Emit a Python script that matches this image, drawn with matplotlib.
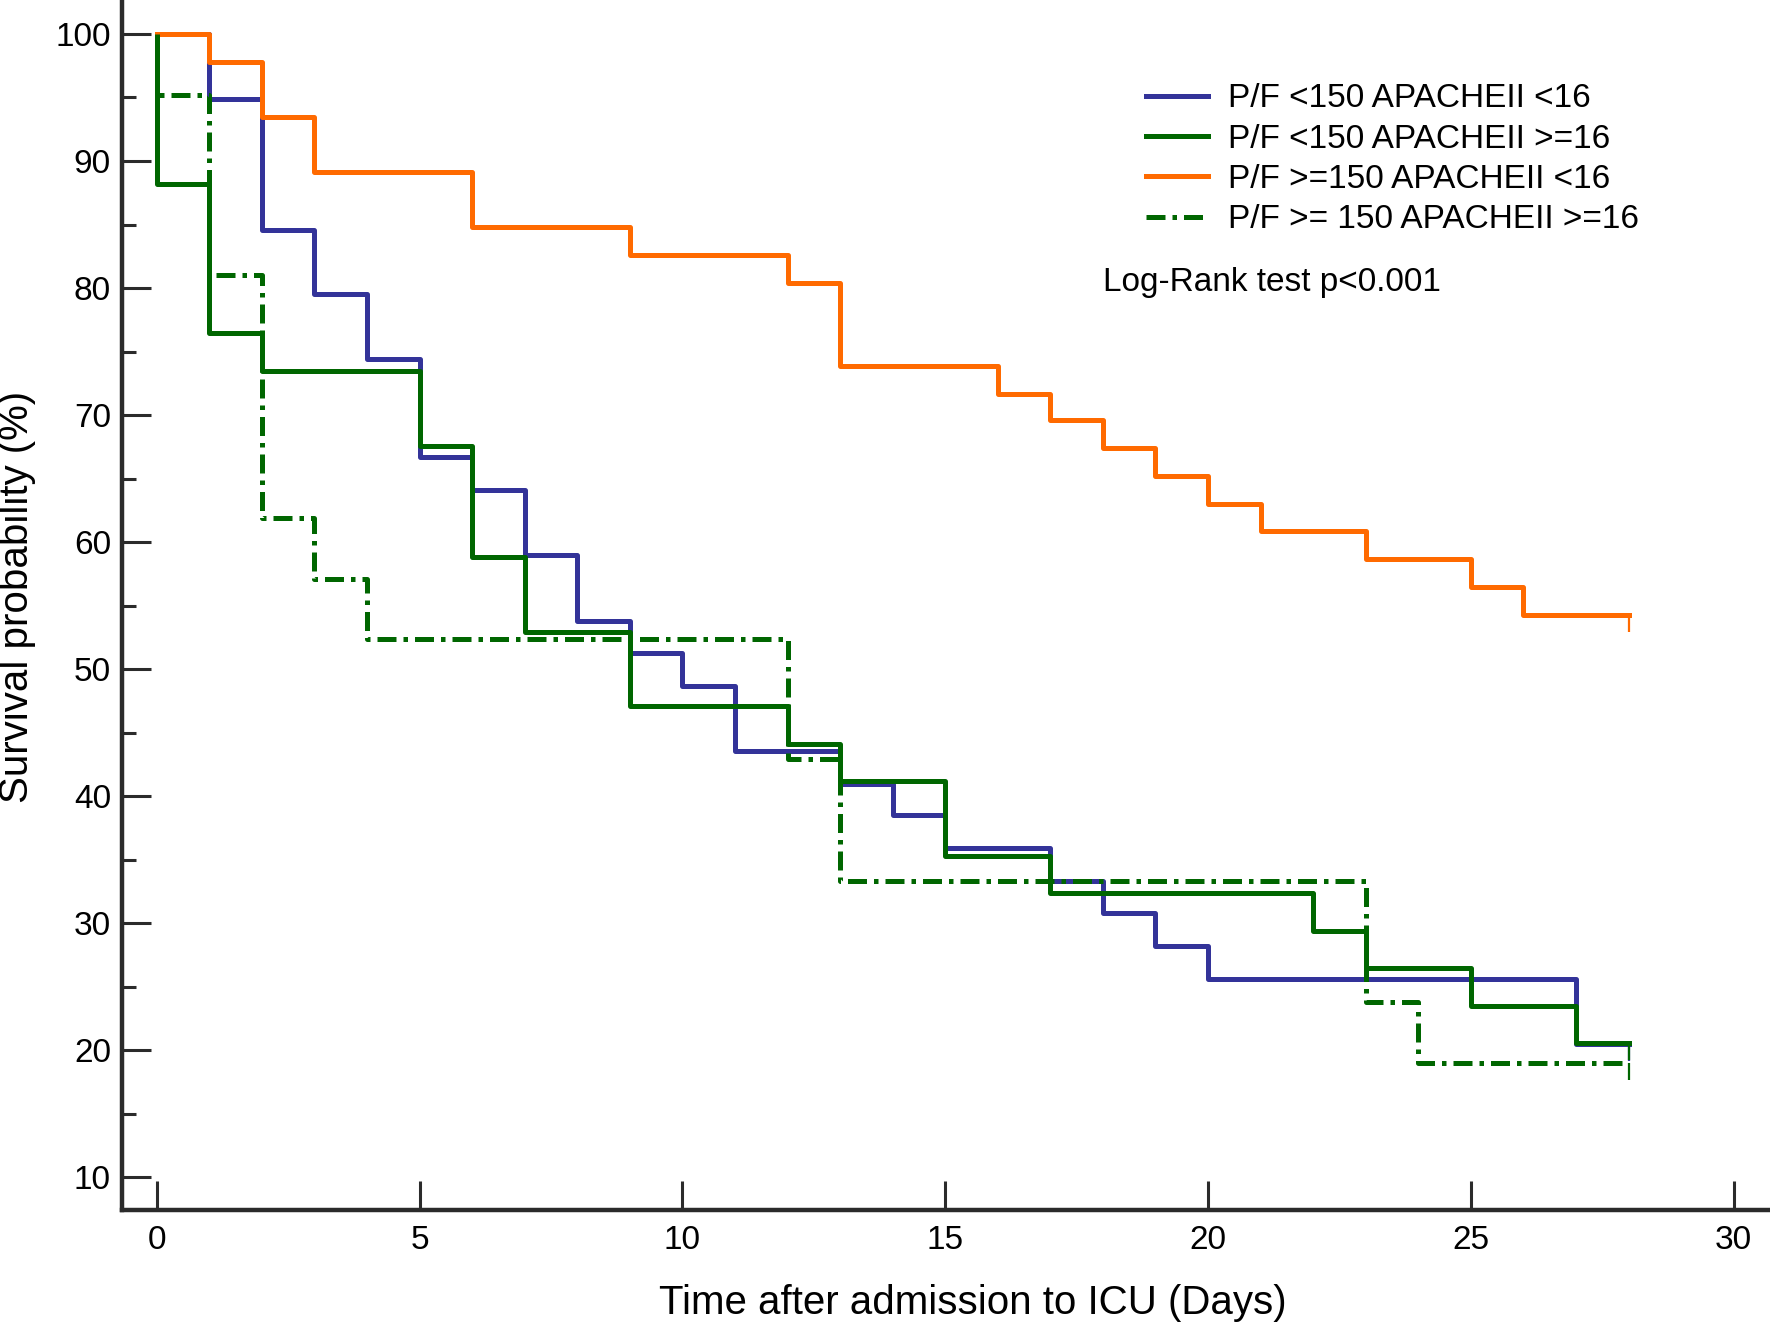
import matplotlib
matplotlib.use('Agg')
import matplotlib.pyplot as plt

plt.rcParams['font.family'] = ['Liberation Sans', 'DejaVu Sans']

#%% Kaplan-Meier curves (days, survival %)
t_low_low = [0, 1, 2, 3, 4, 5, 6, 7, 8, 9, 10, 11, 13, 14, 15, 17, 18, 19, 20, 27, 28]
s_low_low = [100, 94.9, 84.6, 79.5, 74.4, 66.7, 64.1, 59.0, 53.8, 51.3, 48.7, 43.6, 41.0,
             38.5, 35.9, 33.3, 30.8, 28.2, 25.6, 20.5, 20.5]

t_low_high = [0, 0, 1, 2, 5, 6, 7, 9, 12, 13, 15, 17, 22, 23, 25, 27, 28]
s_low_high = [100, 88.2, 76.5, 73.5, 67.6, 58.8, 52.9, 47.1, 44.1, 41.2, 35.3, 32.4,
              29.4, 26.5, 23.5, 20.6, 20.6]

t_high_low = [0, 1, 2, 3, 6, 9, 12, 13, 16, 17, 18, 19, 20, 21, 23, 25, 26, 28]
s_high_low = [100, 97.8, 93.5, 89.1, 84.8, 82.6, 80.4, 73.9, 71.7, 69.6, 67.4, 65.2,
              63.0, 60.9, 58.7, 56.5, 54.3, 54.3]

t_high_high = [0, 0, 1, 2, 3, 4, 12, 13, 23, 24, 28]
s_high_high = [100, 95.2, 81.0, 61.9, 57.1, 52.4, 42.9, 33.3, 23.8, 19.0, 19.0]

labels = ['P/F <150 APACHEII <16', 'P/F <150 APACHEII >=16',
          'P/F >=150 APACHEII <16', 'P/F >= 150 APACHEII >=16']

blue = '#333399'
green = '#006600'
orange = '#ff6a00'
dashdot = (0, (3.8, 1.4, 0.9, 1.4))

#%% Plot
fig = plt.figure(figsize=(17.7, 13.25), dpi=100)
ax = fig.add_axes([122/1770, 1 - 1210/1325, 1 - 122/1770, 1210/1325])

series = [(t_low_low, s_low_low, blue, '-'),
          (t_low_high, s_low_high, green, '-'),
          (t_high_low, s_high_low, orange, '-'),
          (t_high_high, s_high_high, green, dashdot)]

for (t, s, c, ls), lab in zip(series, labels):
    ax.step(t, s, where='post', color=c, lw=3.6, linestyle=ls, label=lab)
    # small end-of-follow-up tick
    ax.vlines(t[-1], s[-1] - 1.35, s[-1], color=c, lw=1.6)

ax.set_xlim(-0.66, 30.69)
ax.set_ylim(7.44, 102.67)

ax.set_xticks(range(0, 31, 5))
ax.set_yticks(range(10, 101, 10))
ax.set_yticks(range(15, 100, 10), minor=True)
ax.tick_params(axis='both', which='major', direction='in', length=21, width=2.2,
               color='#2b2b2b', labelsize=24)
ax.tick_params(axis='y', which='minor', direction='in', length=10, width=2.2, color='#2b2b2b')
ax.tick_params(axis='x', pad=11)
ax.tick_params(axis='y', pad=8)

for side in ['top', 'right']:
    ax.spines[side].set_visible(False)
for side in ['left', 'bottom']:
    ax.spines[side].set_linewidth(3.2)
    ax.spines[side].set_color('#2b2b2b')

ax.set_xlabel('Time after admission to ICU (Days)', fontsize=29)
ax.xaxis.set_label_coords(0.516, -0.061)
ax.set_ylabel('Survival probability (%)', fontsize=29)
ax.yaxis.set_label_coords(-0.052, 0.507)

leg = ax.legend(loc='upper left', bbox_to_anchor=(1146/1770, 0.937),
                bbox_transform=fig.transFigure, frameon=False, fontsize=24,
                borderpad=0, borderaxespad=0, handlelength=1.86,
                handletextpad=0.6, labelspacing=0.28)

ax.text(18, 80.4, 'Log-Rank test p<0.001', fontsize=24, va='center', ha='left')

fig.savefig('out.png', dpi=100)
